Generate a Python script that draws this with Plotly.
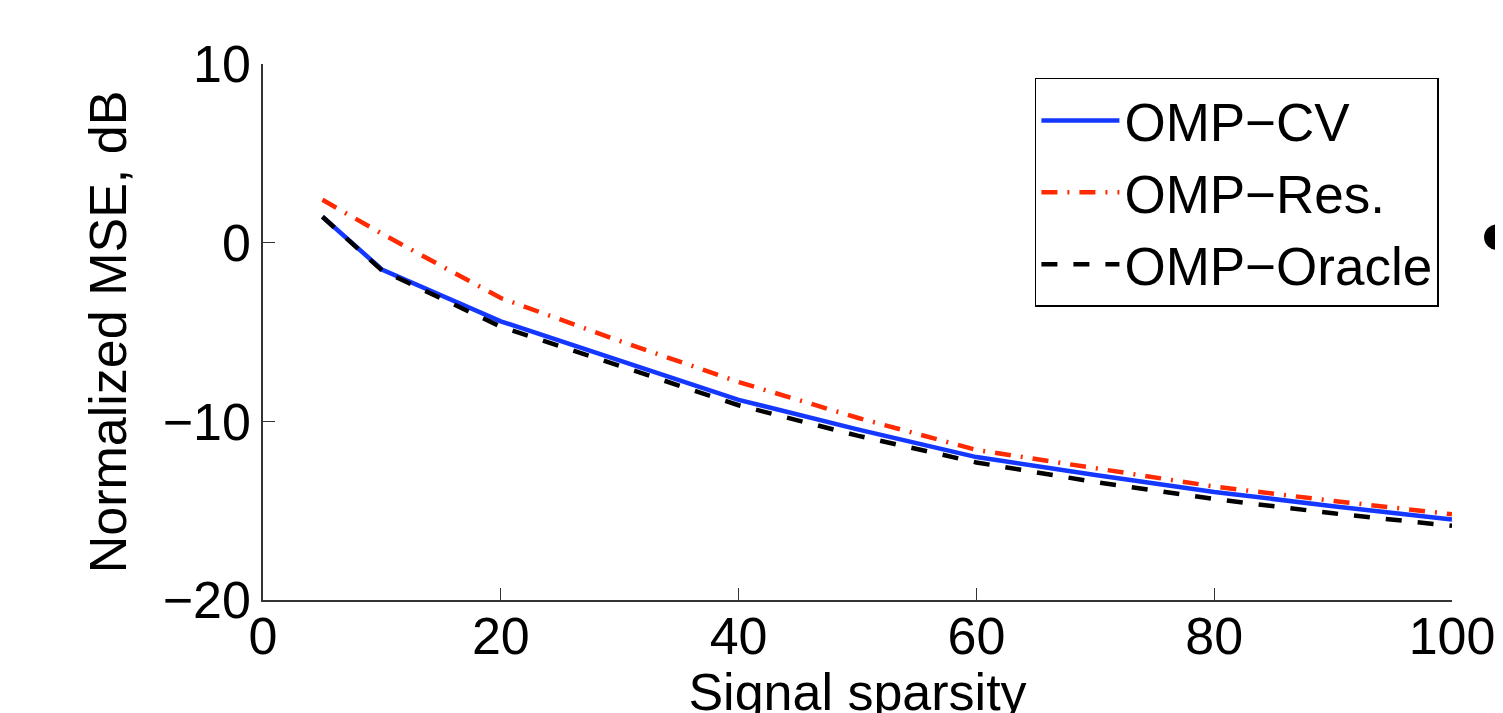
import plotly.graph_objects as go

sparsity = [5, 10, 20, 30, 40, 50, 60, 70, 80, 90, 100]
omp_cv = [1.45, -1.5, -4.4, -6.6, -8.8, -10.45, -12.0, -13.0, -13.95, -14.75, -15.5]
omp_res = [2.4, 0.5, -3.1, -5.5, -7.8, -9.8, -11.6, -12.6, -13.65, -14.45, -15.2]
omp_oracle = [1.45, -1.55, -4.7, -6.9, -9.1, -10.8, -12.3, -13.4, -14.35, -15.15, -15.85]

series_names = ["OMP\u2212CV", "OMP\u2212Res.", "OMP\u2212Oracle"]
x_ticks = [0, 20, 40, 60, 80, 100]
y_ticks = [-20, -10, 0, 10]

FONT = "Liberation Sans, Arial, Helvetica, sans-serif"

fig = go.Figure()
fig.add_trace(go.Scatter(x=sparsity, y=omp_cv, mode="lines", name=series_names[0],
                         line=dict(color="#1438ff", width=4.5)))
fig.add_trace(go.Scatter(x=sparsity, y=omp_res, mode="lines", name=series_names[1],
                         line=dict(color="#ff2a00", width=4.5, dash="16px,10px,2px,10px")))
fig.add_trace(go.Scatter(x=sparsity, y=omp_oracle, mode="lines", name=series_names[2],
                         line=dict(color="black", width=4.5, dash="16px,16px")))

# page body has an 8px margin, so the margins are shifted by 8px
fig.update_layout(
    width=1503, height=713,
    margin=dict(l=255, r=59, t=56, b=121, autoexpand=False),
    paper_bgcolor="white", plot_bgcolor="white",
    font=dict(family=FONT, size=52, color="black"),
    showlegend=True,
    legend=dict(x=0.989, y=0.974, xanchor="right", yanchor="top",
                bgcolor="white", bordercolor="black", borderwidth=1.5,
                font=dict(size=53), tracegroupgap=0, itemwidth=78),
    xaxis=dict(range=[0, 100], tickvals=x_ticks, ticks="inside", ticklen=12,
               tickwidth=1.2, tickcolor="#333", showline=True, linecolor="#333",
               linewidth=1.5, showgrid=False, zeroline=False, mirror=False,
               ticklabelstandoff=-10,
               title=dict(text="Signal sparsity", standoff=0, font=dict(size=52)),
               tickfont=dict(size=52)),
    yaxis=dict(range=[-20, 10], tickvals=y_ticks, ticks="inside", ticklen=12,
               tickwidth=1.2, tickcolor="#333", showline=True, linecolor="#333",
               linewidth=1.5, showgrid=False, zeroline=False, mirror=False,
               title=dict(text="Normalized MSE, dB", standoff=19, font=dict(size=52)),
               tickfont=dict(size=52)),
    shapes=[dict(type="circle", xref="paper", yref="paper",
                 x0=1.027, x1=1.049, y0=0.653, y1=0.701,
                 fillcolor="black", line=dict(width=0))],
)

fig.write_html("out.html")
